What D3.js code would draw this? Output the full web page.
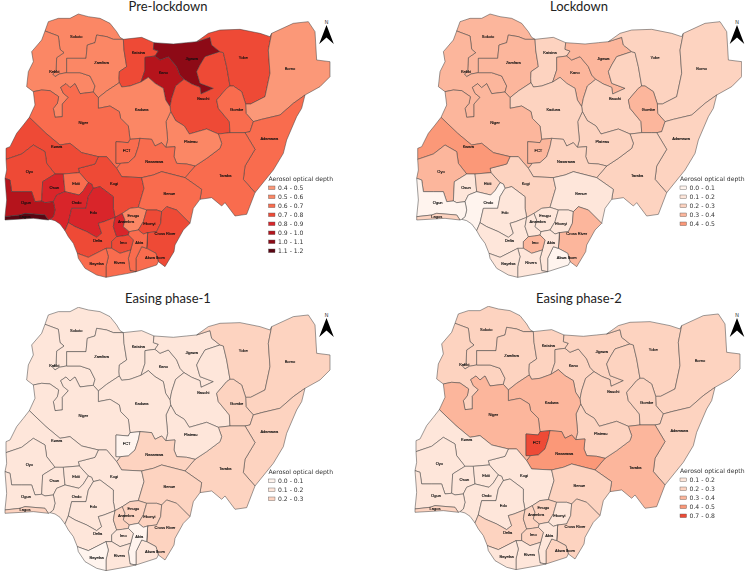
<!DOCTYPE html>
<html>
<head>
<meta charset="utf-8">
<script src="https://cdn.jsdelivr.net/npm/d3@7"></script>
<style>
  html, body { margin: 0; padding: 0; background: #fff; overflow: hidden; }
  svg { display: block; }
  .state { stroke: #3c3c3c; stroke-width: 0.5; stroke-linejoin: round; }
  .name { font-family: "Liberation Sans", sans-serif; font-size: 4px; fill: #111; text-anchor: middle; dominant-baseline: middle; stroke: #111; stroke-width: 0.15; }
  .title { font-family: Lato, sans-serif; font-size: 13px; fill: #222; text-anchor: middle; }
  .legend { font-family: "DejaVu Sans", sans-serif; font-size: 6.1px; fill: #333; }
  .soft { filter: blur(0.3px); }
</style>
</head>
<body>
<div id="chart"></div>
<script>
// Map outline points (map units, 3 units = 1 px)
const stateNames = ['Sokoto','Kebbi','Zamfara','Katsina','Kano','Jigawa','Bauchi','Yobe','Borno','Gombe','Adamawa','Taraba','Plateau','Kaduna','Niger','FCT','Nasarawa','Kogi','Benue','Kwara','Oyo','Osun','Ekiti','Ondo','Ogun','Lagos','Edo','Delta','Anambra','Enugu','Ebonyi','Cross River','Akwa Ibom','Abia','Imo','Rivers','Bayelsa'];

// Aerosol optical depth per state, bin midpoints, same order as stateNames
const preLockdown = [.55,.55,.55,.75,.95,1.05,.75,.75,.45,.65,.65,.65,.55,.55,.65,.65,.65,.75,.65,.75,.75,.85,.65,.85,.95,1.15,.85,.75,.85,.55,.75,.75,.65,.65,.75,.65,.65];
const lockdown = [.35,.35,.35,.25,.35,.35,.25,.25,.25,.35,.25,.25,.25,.25,.35,.35,.25,.25,.15,.45,.35,.15,.25,.05,.05,.25,.15,.15,.15,.15,.15,.35,.05,.15,.35,.15,.15];
const easing1 = [.15,.15,.15,.15,.15,.15,.15,.25,.25,.25,.25,.25,.15,.15,.15,.05,.25,.15,.25,.15,.15,.15,.15,.15,.15,.25,.15,.15,.25,.25,.25,.25,.15,.05,.15,.15,.05];
const easing2 = [.25,.25,.25,.25,.25,.25,.25,.25,.25,.25,.25,.35,.25,.35,.35,.75,.45,.15,.25,.15,.15,.15,.15,.15,.15,.25,.15,.25,.25,.25,.15,.25,.25,.15,.25,.15,.15];

const binLabels1 = ['0.4 - 0.5','0.5 - 0.6','0.6 - 0.7','0.7 - 0.8','0.8 - 0.9','0.9 - 1.0','1.0 - 1.1','1.1 - 1.2'];
const binLabels2 = ['0.0 - 0.1','0.1 - 0.2','0.2 - 0.3','0.3 - 0.4','0.4 - 0.5'];
const binLabels3 = ['0.0 - 0.1','0.1 - 0.2','0.2 - 0.3'];
const binLabels4 = ['0.1 - 0.2','0.2 - 0.3','0.3 - 0.4','0.4 - 0.5','0.7 - 0.8'];

const binEdges = [.1,.2,.3,.4,.5,.6,.7,.8,.9,1,1.1];
const binColors = ['#fff4ee','#fee6da','#fdd3c0','#fcb69c','#fb9878','#fb8765','#f96c4e','#ee4a36','#d9252a','#b5141c','#8d0a16','#5a0512'];
const color = d3.scaleThreshold().domain(binEdges).range(binColors);

// shared border arcs, named after the two states on each side (o_ = outer border)
const arcs = {
  o_so: [[135,93],[145,65],[175,55],[210,55],[235,42],[265,50],[300,55],[330,70],[350,95],[360,112],[370,118]],
  o_ka: [[370,118],[425,112],[462,128]],
  o_ji: [[462,128],[520,132],[560,128],[590,125]],
  o_yo: [[590,125],[625,100],[660,90],[720,88],[780,100],[810,110],[815,100]],
  o_bo: [[815,100],[880,70],[925,65],[945,95],[950,180],[990,185],[990,230],[960,260],[915,285]],
  o_ad: [[915,285],[905,325],[890,350],[860,420],[850,460],[820,510],[765,578]],
  o_ta: [[765,578],[740,643],[705,648],[675,608],[665,618],[635,593],[600,598]],
  o_be: [[600,598],[580,625],[570,670]],
  o_cr: [[570,670],[550,690],[525,735],[522,755],[495,800],[475,785]],
  o_ak: [[475,785],[470,795],[408,815]],
  o_ri: [[408,815],[385,820],[318,832]],
  o_ba: [[318,832],[290,825],[255,805],[235,775],[232,760]],
  o_de: [[232,760],[220,730],[205,710],[195,692]],
  o_on: [[195,692],[180,672],[165,662],[150,658]],
  o_og1: [[150,658],[145,660]],
  o_la: [[145,660],[100,655],[15,660],[15,650]],
  o_og2: [[15,650],[20,600],[15,535]],
  o_oy: [[15,535],[20,510],[18,478]],
  o_kw: [[18,478],[18,445],[30,440],[50,400],[70,375],[88,352]],
  o_ni: [[88,352],[105,315],[100,275]],
  o_ke: [[100,275],[80,260],[85,215],[100,185],[95,155],[125,120],[135,93]],
  so_za: [[370,118],[340,118],[320,110],[290,105],[285,128],[262,135],[258,175],[200,175],[200,218]],
  ke_so: [[135,93],[175,108],[180,148],[192,158],[170,173],[168,213],[158,222],[165,230],[178,222],[200,218]],
  ke_za: [[200,218],[240,218],[270,228],[285,258],[280,276]],
  ke_ni: [[280,276],[240,281],[225,251],[210,263],[198,251],[182,262],[190,280],[205,292],[187,312],[187,350],[165,352],[160,325],[172,310],[176,290],[150,272],[125,270],[100,275]],
  za_ka: [[370,118],[372,150],[380,200],[358,215],[357,235],[358,248]],
  za_kd: [[358,248],[320,273],[295,293]],
  za_ni: [[295,293],[280,276]],
  ka_ji: [[462,128],[460,148],[475,153],[465,168]],
  ka_kn: [[465,168],[435,172],[435,210],[423,246]],
  ka_kd: [[423,246],[390,258],[365,261],[358,248]],
  kn_ji: [[465,168],[480,180],[505,170],[530,200],[540,225],[552,238]],
  kn_kd: [[423,246],[445,232],[465,250],[490,265],[497,300],[510,320]],
  kn_ba: [[510,320],[515,295],[527,258],[552,238]],
  ji_yo: [[590,125],[630,112],[635,135],[660,155]],
  ba_ji: [[552,238],[575,252],[600,262],[603,282],[640,265],[600,250],[590,215],[600,195],[615,170],[660,155]],
  ba_yo: [[660,155],[670,158],[680,200],[690,258]],
  ba_go: [[690,258],[680,265],[650,300],[655,325],[688,365],[690,398]],
  ba_ta: [[690,398],[655,402]],
  ba_pl: [[655,402],[620,387],[568,402],[553,378],[527,362],[512,335]],
  kd_ba: [[510,320],[512,335]],
  yo_bo: [[815,100],[805,150],[810,220],[795,290],[752,312],[737,312]],
  yo_go: [[737,312],[725,275],[700,258],[690,258]],
  bo_ad: [[915,285],[880,310],[840,345],[785,358],[760,365]],
  bo_go: [[760,365],[738,340],[737,312]],
  go_ad: [[760,365],[750,395],[735,398]],
  go_ta: [[735,398],[720,398],[690,398]],
  ad_ta: [[735,398],[765,448],[735,498],[730,538],[765,578]],
  be_ta: [[555,533],[605,568],[600,598]],
  ta_na: [[555,533],[585,498]],
  ta_pl: [[585,498],[620,475],[660,445],[665,430],[655,402]],
  pl_na: [[585,498],[560,492],[530,490],[522,470],[525,440],[497,442]],
  pl_kd: [[497,442],[503,420],[498,365],[512,335]],
  kd_na: [[497,442],[485,428],[465,438],[455,418],[420,415]],
  kd_fc: [[420,415],[390,418]],
  kd_ni: [[390,418],[385,378],[362,355],[358,335],[330,318],[295,325],[295,293]],
  ni_fc: [[390,418],[385,428],[348,425],[348,490],[362,490]],
  ni_na: [[362,490],[350,505]],
  ni_ko: [[295,470],[320,470],[350,505]],
  ni_kw: [[295,470],[245,458],[210,430],[180,435],[138,400],[88,352]],
  fc_na: [[420,415],[415,440],[405,470],[385,488],[362,490]],
  na_be: [[555,533],[485,515],[460,525],[425,533]],
  ko_na: [[350,505],[365,530],[425,533]],
  ko_kw: [[295,470],[285,492],[235,505],[238,518]],
  ko_ek: [[238,518],[265,548]],
  ko_on: [[265,548],[275,552],[280,565]],
  ko_ed: [[280,565],[300,560],[340,590],[340,625],[345,652]],
  ko_an: [[345,652],[367,640]],
  ko_en: [[367,640],[390,625],[415,622]],
  ko_be: [[415,622],[432,565],[425,533]],
  be_cr: [[570,670],[530,630],[500,620],[485,635]],
  be_eb: [[485,635],[470,630],[440,630]],
  be_en: [[440,630],[415,622]],
  kw_ek: [[238,518],[190,522]],
  kw_os: [[190,522],[165,522]],
  kw_oy: [[165,522],[140,490],[135,455],[100,435],[65,462],[18,478]],
  oy_os: [[165,522],[128,545],[125,603]],
  oy_og: [[125,603],[105,605],[95,575],[65,575],[35,575],[30,540],[15,535]],
  os_ek: [[190,522],[195,575]],
  os_on: [[195,575],[170,585],[160,605]],
  og_os: [[125,603],[135,608],[160,605]],
  ek_on: [[265,548],[250,572],[237,585],[195,575]],
  on_ed: [[280,565],[265,590],[258,625],[215,625],[205,668]],
  on_de: [[205,668],[195,692]],
  og_on: [[160,605],[165,630],[160,650],[150,658]],
  la_og: [[145,660],[135,645],[75,640],[60,645],[15,650]],
  ed_de: [[345,652],[312,665],[295,670],[305,700],[290,712],[260,695],[225,680],[205,668]],
  de_ba: [[232,760],[265,772],[318,745]],
  de_ri: [[318,745],[335,745]],
  im_de: [[350,710],[335,725],[335,745]],
  an_de: [[345,652],[340,680],[350,710]],
  an_en: [[367,640],[375,660],[370,680],[388,695]],
  an_ab: [[388,695],[385,705]],
  an_im: [[350,710],[368,708],[385,705]],
  en_ab: [[388,695],[415,690]],
  en_eb: [[440,630],[430,665],[415,690]],
  eb_cr: [[485,635],[482,670],[470,695],[443,698]],
  eb_ab: [[415,690],[430,702],[443,698]],
  ab_cr: [[443,698],[440,745]],
  ak_cr: [[440,745],[468,760],[475,785]],
  ab_ak: [[440,745],[425,740],[408,775],[408,815]],
  ab_im: [[385,705],[400,720],[392,750]],
  ab_ri: [[392,750],[385,775],[390,812],[408,815]],
  im_ri: [[335,745],[360,760],[392,750]],
  ba_ri: [[318,745],[325,770],[318,800],[318,832]]
};

// each state's ring as a chain of arcs, '-' walks the arc backwards
const rings = {
  'Sokoto': ['o_so','so_za','-ke_so'],
  'Kebbi': ['ke_so','ke_za','ke_ni','o_ke'],
  'Zamfara': ['-so_za','za_ka','za_kd','za_ni','-ke_za'],
  'Katsina': ['o_ka','ka_ji','ka_kn','ka_kd','-za_ka'],
  'Kano': ['ka_kn','kn_kd','kn_ba','-kn_ji'],
  'Jigawa': ['o_ji','ji_yo','-ba_ji','-kn_ji','-ka_ji'],
  'Bauchi': ['kn_ba','ba_ji','ba_yo','ba_go','ba_ta','ba_pl','-kd_ba'],
  'Yobe': ['o_yo','yo_bo','yo_go','-ba_yo','-ji_yo'],
  'Borno': ['o_bo','bo_ad','bo_go','-yo_bo'],
  'Gombe': ['-yo_go','-bo_go','go_ad','go_ta','-ba_go'],
  'Adamawa': ['-bo_ad','o_ad','-ad_ta','-go_ad'],
  'Taraba': ['ad_ta','o_ta','-be_ta','ta_na','ta_pl','-ba_ta','-go_ta'],
  'Plateau': ['-ba_pl','-ta_pl','pl_na','pl_kd'],
  'Kaduna': ['-za_kd','-ka_kd','kn_kd','kd_ba','-pl_kd','kd_na','kd_fc','kd_ni'],
  'Niger': ['-ke_ni','-za_ni','-kd_ni','ni_fc','ni_na','-ni_ko','ni_kw','o_ni'],
  'FCT': ['-kd_fc','fc_na','-ni_fc'],
  'Nasarawa': ['-kd_na','-pl_na','-ta_na','na_be','-ko_na','-ni_na','-fc_na'],
  'Kogi': ['-ni_ko','ko_kw','ko_ek','ko_on','ko_ed','ko_an','ko_en','ko_be','-ko_na'],
  'Benue': ['-na_be','be_ta','o_be','be_cr','be_eb','be_en','ko_be'],
  'Kwara': ['o_kw','-ni_kw','ko_kw','kw_ek','kw_os','kw_oy'],
  'Oyo': ['-kw_oy','oy_os','oy_og','o_oy'],
  'Osun': ['-kw_os','os_ek','os_on','-og_os','-oy_os'],
  'Ekiti': ['-kw_ek','ko_ek','ek_on','-os_ek'],
  'Ondo': ['-ek_on','ko_on','on_ed','on_de','o_on','-og_on','-os_on'],
  'Ogun': ['oy_og','-o_og2','-la_og','-o_og1','-og_on','-og_os'],
  'Lagos': ['o_la','-la_og'],
  'Edo': ['-ko_ed','on_ed','-ed_de'],
  'Delta': ['ed_de','on_de','-o_de','de_ba','de_ri','-im_de','-an_de'],
  'Anambra': ['ko_an','an_en','an_ab','-an_im','-an_de'],
  'Enugu': ['-ko_en','an_en','en_ab','-en_eb','be_en'],
  'Ebonyi': ['-be_eb','eb_cr','-eb_ab','-en_eb'],
  'Cross River': ['-be_cr','o_cr','-ak_cr','ab_cr','-eb_cr'],
  'Akwa Ibom': ['ak_cr','o_ak','-ab_ak'],
  'Abia': ['-eb_ab','-en_ab','an_ab','ab_im','ab_ri','-ab_ak','-ab_cr'],
  'Imo': ['an_im','ab_im','-im_ri','-im_de'],
  'Rivers': ['-de_ri','ba_ri','-o_ri','-ab_ri','-im_ri'],
  'Bayelsa': ['de_ba','ba_ri','o_ba']
};

const labelAt = {
  'Sokoto':[229,112],'Zamfara':[305,190],'Katsina':[415,160],'Kano':[490,220],'Jigawa':[575,178],'Yobe':[730,173],'Borno':[870,207],'Kebbi':[163,217],
  'Kaduna':[425,331],'Bauchi':[610,298],'Gombe':[710,331],'Niger':[250,368],'Plateau':[572,426],'Adamawa':[808,417],'FCT':[380,452],'Nasarawa':[463,485],
  'Kwara':[170,442],'Oyo':[88,515],'Osun':[163,563],'Ekiti':[228,551],'Kogi':[342,551],'Taraba':[676,527],'Benue':[508,582],'Ogun':[78,610],'Ondo':[230,610],
  'Edo':[280,640],'Enugu':[400,648],'Anambra':[378,667],'Ebonyi':[448,671],'Delta':[293,722],'Imo':[370,728],'Abia':[418,730],'Cross River':[495,703],
  'Akwa Ibom':[465,775],'Bayelsa':[290,793],'Rivers':[358,788],'Lagos':[75,650]
};

const panels = [
  {title: 'Pre-lockdown', values: preLockdown, bins: binLabels1, map: [0, 0], titleX: 168, titleY: 10.5, legend: [268.5, 179], north: [326.5, 30]},
  {title: 'Lockdown', values: lockdown, bins: binLabels2, map: [411.7, 0], titleX: 579, titleY: 10.5, legend: [680, 179], north: [737, 30]},
  {title: 'Easing phase-1', values: easing1, bins: binLabels3, map: [0, 293.3], titleX: 168, titleY: 302.5, legend: [268.5, 472], north: [326.5, 323]},
  {title: 'Easing phase-2', values: easing2, bins: binLabels4, map: [410, 292.3], titleX: 579, titleY: 302.5, legend: [680, 471], north: [737, 323]}
];

const width = 747, height = 573;
const svg = d3.select('#chart').append('svg').attr('width', width).attr('height', height);

function ringOf(name) {
  const pts = [];
  rings[name].forEach(a => {
    const rev = a[0] === '-';
    const line = arcs[rev ? a.slice(1) : a];
    const seq = rev ? line.slice().reverse() : line;
    seq.forEach(p => pts.push(p));
  });
  pts.push(pts[0]);
  return pts;
}

const features = stateNames.map((name, i) => ({
  type: 'Feature',
  properties: {name, i},
  geometry: {type: 'Polygon', coordinates: [ringOf(name)]}
}));

panels.forEach(p => {
  const projection = d3.geoIdentity().scale(1 / 3).translate(p.map);
  const path = d3.geoPath(projection);
  const g = svg.append('g').attr('class', 'soft');

  g.selectAll('path').data(features).join('path')
    .attr('class', 'state')
    .attr('d', path)
    .attr('fill', d => color(p.values[d.properties.i]));

  g.selectAll('text.name').data(stateNames).join('text')
    .attr('class', 'name')
    .attr('x', d => projection(labelAt[d])[0])
    .attr('y', d => projection(labelAt[d])[1])
    .text(d => d);

  svg.append('text').attr('class', 'title').attr('x', p.titleX).attr('y', p.titleY).text(p.title);

  // legend, swatches take the colour of the bin's midpoint
  const lg = svg.append('g').attr('class', 'soft').attr('transform', `translate(${p.legend[0]},${p.legend[1]})`);
  lg.append('text').attr('class', 'legend').attr('y', 2).text('Aerosol optical depth');
  const rows = d3.scalePoint().domain(p.bins).range([0, 9 * (p.bins.length - 1)]);
  p.bins.forEach(b => {
    const mid = d3.mean(b.split(' - ').map(Number));
    lg.append('rect').attr('x', 0).attr('y', 7 + rows(b)).attr('width', 6.5).attr('height', 3.6)
      .attr('fill', color(mid)).attr('stroke', '#555').attr('stroke-width', 0.4);
    lg.append('text').attr('class', 'legend').attr('x', 9.5).attr('y', 11.2 + rows(b)).text(b);
  });

  // north arrow
  const n = svg.append('g').attr('transform', `translate(${p.north[0]},${p.north[1]})`);
  n.append('path').attr('d', 'M0,-5L-7.3,14L0,7.5L7.3,14Z').attr('fill', '#000');
  n.append('text').attr('y', -6).attr('text-anchor', 'middle')
    .attr('font-family', 'Liberation Sans, sans-serif').attr('font-size', 5).attr('fill', '#222').text('N');
});
</script>
</body>
</html>
